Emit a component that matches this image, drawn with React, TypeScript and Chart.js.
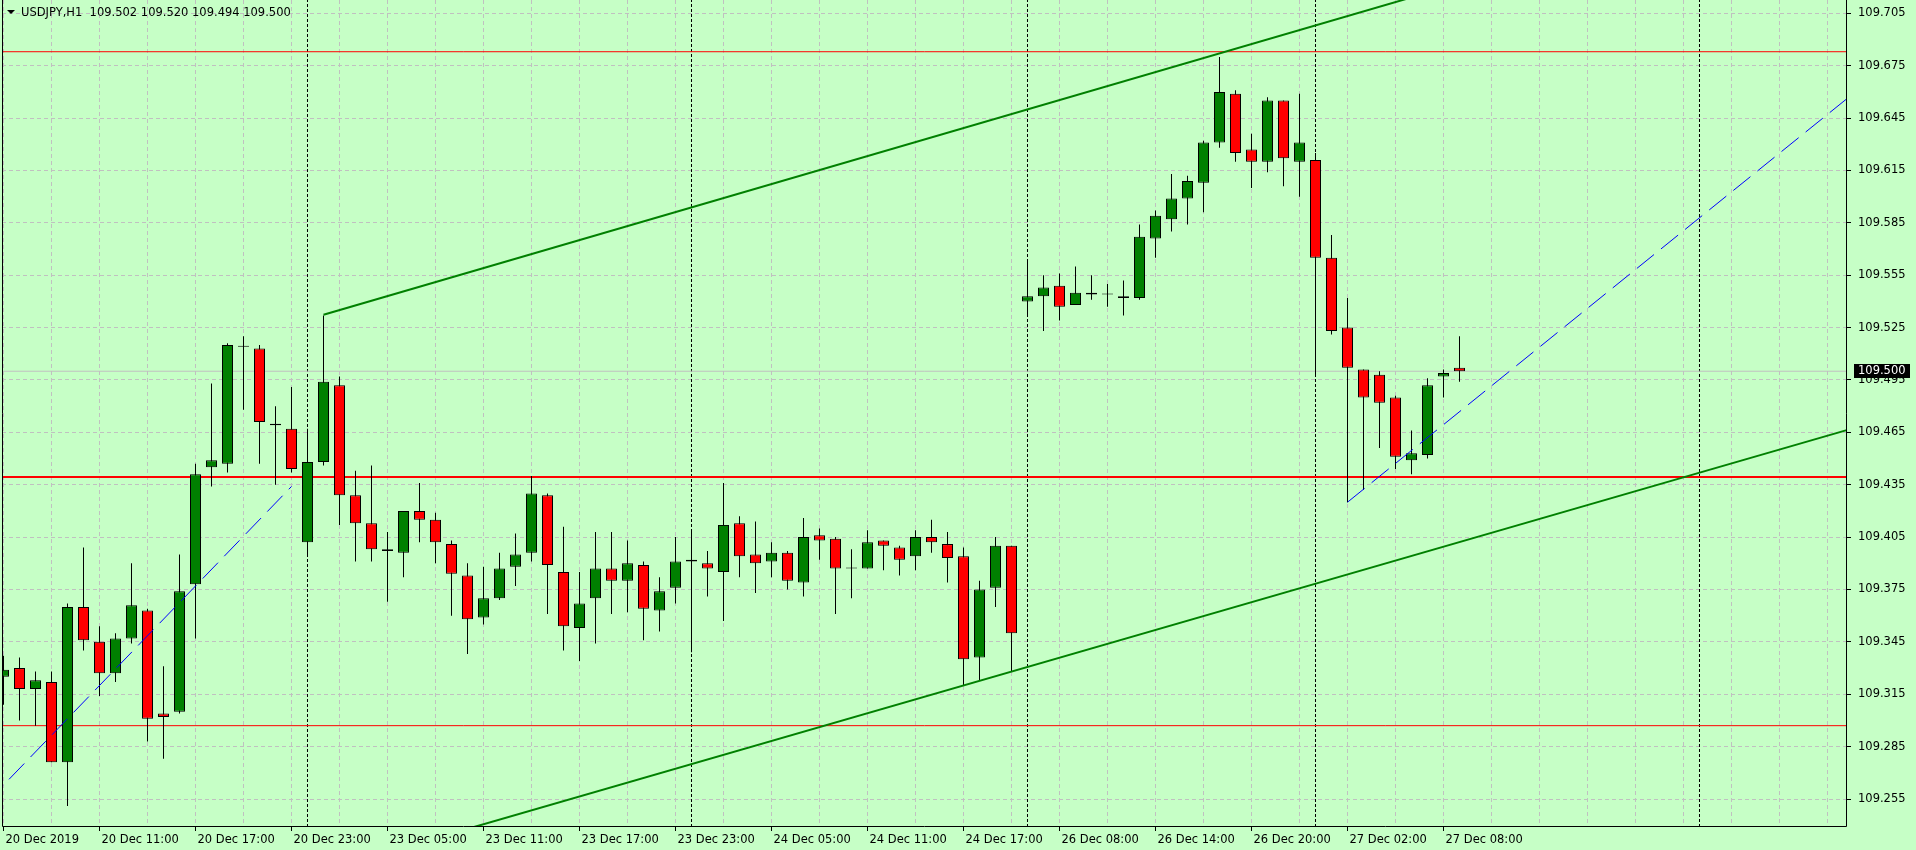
import React, { useEffect, useRef } from "react";
import { Chart, registerables } from "chart.js";

Chart.register(...registerables);

// ---------- data ----------
const SYMBOL = "USDJPY";
const PERIOD = "H1";

const opens = [
  109.325, 109.330, 109.318, 109.322, 109.276, 109.365, 109.345, 109.327, 109.347, 109.363,
  109.304, 109.305, 109.378, 109.445, 109.447, 109.514, 109.513, 109.470, 109.467, 109.402,
  109.448, 109.492, 109.429, 109.413, 109.398, 109.396, 109.420, 109.415, 109.401, 109.383,
  109.359, 109.370, 109.388, 109.396, 109.429, 109.385, 109.353, 109.370, 109.387, 109.380,
  109.389, 109.363, 109.376, 109.392, 109.390, 109.385, 109.413, 109.395, 109.391, 109.396,
  109.379, 109.406, 109.404, 109.387, 109.387, 109.403, 109.399, 109.394, 109.405, 109.401,
  109.394, 109.336, 109.376, 109.400, 109.540, 109.543, 109.549, 109.538, 109.545, 109.544,
  109.543, 109.542, 109.576, 109.587, 109.599, 109.608, 109.631, 109.659, 109.627, 109.620,
  109.655, 109.620, 109.621, 109.565, 109.525, 109.501, 109.498, 109.485, 109.449, 109.452,
  109.497, 109.502,
];
const highs = [
  109.337, 109.336, 109.328, 109.328, 109.367, 109.399, 109.354, 109.350, 109.390, 109.364,
  109.331, 109.395, 109.447, 109.493, 109.516, 109.520, 109.515, 109.480, 109.491, 109.467,
  109.532, 109.497, 109.443, 109.446, 109.408, 109.420, 109.436, 109.419, 109.403, 109.390,
  109.388, 109.396, 109.407, 109.440, 109.430, 109.411, 109.385, 109.408, 109.408, 109.403,
  109.391, 109.382, 109.405, 109.409, 109.397, 109.436, 109.417, 109.414, 109.402, 109.397,
  109.416, 109.410, 109.405, 109.398, 109.409, 109.403, 109.400, 109.409, 109.415, 109.408,
  109.399, 109.380, 109.405, 109.400, 109.564, 109.555, 109.556, 109.560, 109.555, 109.550,
  109.552, 109.584, 109.592, 109.613, 109.612, 109.632, 109.680, 109.661, 109.636, 109.657,
  109.655, 109.659, 109.625, 109.578, 109.542, 109.501, 109.500, 109.486, 109.466, 109.496,
  109.501, 109.520,
];
const lows = [
  109.309, 109.300, 109.297, 109.276, 109.251, 109.340, 109.314, 109.322, 109.344, 109.288,
  109.278, 109.304, 109.347, 109.434, 109.442, 109.478, 109.447, 109.435, 109.442, 109.394,
  109.446, 109.412, 109.391, 109.391, 109.368, 109.382, 109.402, 109.390, 109.360, 109.338,
  109.355, 109.369, 109.377, 109.391, 109.361, 109.340, 109.334, 109.344, 109.361, 109.362,
  109.346, 109.351, 109.367, 109.339, 109.371, 109.357, 109.382, 109.373, 109.382, 109.375,
  109.371, 109.392, 109.361, 109.370, 109.387, 109.386, 109.383, 109.386, 109.396, 109.379,
  109.320, 109.323, 109.365, 109.328, 109.531, 109.523, 109.529, 109.538, 109.541, 109.537,
  109.532, 109.541, 109.565, 109.580, 109.584, 109.591, 109.628, 109.620, 109.605, 109.614,
  109.606, 109.600, 109.497, 109.521, 109.425, 109.432, 109.456, 109.444, 109.441, 109.450,
  109.485, 109.494,
];
const closes = [
  109.329, 109.318, 109.323, 109.276, 109.365, 109.346, 109.327, 109.347, 109.366, 109.301,
  109.302, 109.374, 109.441, 109.449, 109.515, 109.514, 109.471, 109.469, 109.444, 109.448,
  109.494, 109.429, 109.413, 109.398, 109.397, 109.420, 109.415, 109.402, 109.384, 109.358,
  109.370, 109.387, 109.395, 109.430, 109.389, 109.354, 109.367, 109.387, 109.380, 109.390,
  109.364, 109.374, 109.391, 109.391, 109.387, 109.412, 109.394, 109.390, 109.396, 109.380,
  109.405, 109.403, 109.387, 109.387, 109.402, 109.400, 109.392, 109.405, 109.402, 109.393,
  109.335, 109.375, 109.400, 109.350, 109.543, 109.548, 109.537, 109.545, 109.544, 109.544,
  109.542, 109.577, 109.589, 109.599, 109.609, 109.631, 109.660, 109.625, 109.620, 109.655,
  109.622, 109.631, 109.565, 109.523, 109.502, 109.485, 109.482, 109.451, 109.453, 109.492,
  109.499, 109.500,
];

// x-axis labels (bar index -> text)
const xLabelBars = [0, 6, 12, 18, 24, 30, 36, 42, 48, 54, 60, 66, 72, 78, 84, 90];
const xLabels = [
  "20 Dec 2019", "20 Dec 11:00", "20 Dec 17:00", "20 Dec 23:00", "23 Dec 05:00", "23 Dec 11:00",
  "23 Dec 17:00", "23 Dec 23:00", "24 Dec 05:00", "24 Dec 11:00", "24 Dec 17:00", "26 Dec 08:00",
  "26 Dec 14:00", "26 Dec 20:00", "27 Dec 02:00", "27 Dec 08:00",
];
const X_GRID_STEP = 3;
const yTickValues = [
  109.255, 109.285, 109.315, 109.345, 109.375, 109.405, 109.435, 109.465,
  109.495, 109.525, 109.555, 109.585, 109.615, 109.645, 109.675, 109.705,
];

// day separators (bar index of first bar of a day)
const daySeparatorBars = [19, 43, 64, 82, 106];

// horizontal lines
const redLevels = [109.683, 109.4395, 109.297];
const redWidths = [1, 2, 1];

// trend lines (anchor points in bar index / price)
const channelUpper = [{ x: 20, y: 109.5324 }, { x: 115.2, y: 109.7868 }];
const channelLower = [{ x: 25, y: 109.2273 }, { x: 115.2, y: 109.4663 }];
const blueLine1 = [{ x: -1, y: 109.2535 }, { x: 18, y: 109.434 }];
const blueLine2 = [{ x: 84, y: 109.425 }, { x: 115.2, y: 109.656 }];

// axis ranges
const X_MIN = -0.09375;
const X_MAX = 115.21875;
const Y_MIN = 109.23897;
const Y_MAX = 109.71263;

// ---------- style ----------
const BG = "#c6ffc6";
const BULL = "#008000";
const BEAR = "#ff0000";
const GRID = "#c0c0c0";
const FONT = "DejaVu Sans";
const FONT_SIZE = 11.5;

export default function App() {
  const ref = useRef<HTMLCanvasElement>(null);

  useEffect(() => {
    document.body.style.margin = "0";
    const canvas = ref.current!;
    const n = opens.length;
    const idx = Array.from({ length: n }, (_, i) => i);
    const bodyColors = idx.map((i) => (closes[i] >= opens[i] ? BULL : BEAR));

    const gridBars: number[] = [];
    for (let v = 0; v <= X_MAX; v += X_GRID_STEP) gridBars.push(v);

    const lineDs = (data: any[], color: string, width: number, order: number, dash: number[] = []) => ({
      type: "line" as const,
      data,
      borderColor: color,
      borderWidth: width,
      borderDash: dash,
      pointRadius: 0,
      fill: false,
      tension: 0,
      order,
      clip: 0,
    });

    const datasets: any[] = [
      {
        type: "bar",
        label: "wicks",
        data: idx.map((i) => ({ x: i, y: [lows[i], highs[i]] })),
        backgroundColor: "#000",
        borderWidth: 0,
        barThickness: 1,
        grouped: false,
        inflateAmount: 0,
        order: 5,
        clip: 0,
      },
      {
        type: "bar",
        label: "bodies",
        data: idx.map((i) => ({ x: i, y: [opens[i], closes[i]] })),
        backgroundColor: bodyColors,
        borderColor: "#000",
        borderWidth: 1,
        borderSkipped: false,
        barThickness: 11,
        minBarLength: 1,
        grouped: false,
        inflateAmount: 0,
        order: 4,
        clip: 0,
      },
      ...daySeparatorBars.map((b) =>
        lineDs([{ x: b, y: Y_MIN }, { x: b, y: Y_MAX }], "#000", 1, 20, [3, 2])
      ),
      ...redLevels.map((p, k) =>
        lineDs([{ x: X_MIN, y: p }, { x: X_MAX, y: p }], BEAR, redWidths[k], 10)
      ),
      lineDs([{ x: X_MIN, y: closes[n - 1] }, { x: X_MAX, y: closes[n - 1] }], "#c0c0c0", 1, 11),
      lineDs(channelUpper, BULL, 2, 1),
      lineDs(channelLower, BULL, 2, 1),
      lineDs(blueLine1, "#0000ff", 1, 1, [22, 9]),
      lineDs(blueLine2, "#0000ff", 1, 1, [22, 9]),
    ];

    const decor = {
      id: "mt4decor",
      beforeDraw(chart: any) {
        const c = chart.ctx;
        c.save();
        c.fillStyle = BG;
        c.fillRect(0, 0, chart.width, chart.height);
        c.restore();
      },
      afterDatasetsDraw(chart: any) {
        const c = chart.ctx;
        const { left, right, top, bottom } = chart.chartArea;
        c.save();
        c.strokeStyle = "#000";
        c.lineWidth = 1;
        c.beginPath();
        c.moveTo(left + 0.5, top);
        c.lineTo(left + 0.5, bottom - 0.5);
        c.lineTo(right - 0.5, bottom - 0.5);
        c.lineTo(right - 0.5, top);
        c.stroke();
        c.restore();
      },
      afterDraw(chart: any) {
        const c = chart.ctx;
        const yScale = chart.scales.y;
        const last = n - 1;
        // bid price box
        const yb = Math.round(yScale.getPixelForValue(closes[last]));
        const xr = chart.chartArea.right;
        c.save();
        c.fillStyle = "#000";
        c.fillRect(xr + 7, yb - 7, 56, 14);
        c.fillStyle = "#fff";
        c.font = `${FONT_SIZE}px "${FONT}"`;
        c.textBaseline = "middle";
        c.textAlign = "left";
        c.fillText(closes[last].toFixed(3), xr + 11, yb + 0.5);
        // title
        c.fillStyle = "#000";
        c.beginPath();
        c.moveTo(7, 10);
        c.lineTo(15, 10);
        c.lineTo(11, 14);
        c.closePath();
        c.fill();
        const title = `${SYMBOL},${PERIOD}  ${opens[last].toFixed(3)} ${highs[last].toFixed(3)} ${lows[last].toFixed(3)} ${closes[last].toFixed(3)}`;
        c.fillText(title, 21, 13);
        c.restore();
      },
    };

    const chart = new Chart(canvas, {
      type: "bar",
      data: { datasets },
      options: {
        responsive: false,
        devicePixelRatio: 1,
        animation: false,
        events: [],
        layout: { padding: { left: 2, top: 0, right: 0, bottom: 0 } },
        plugins: { legend: { display: false }, tooltip: { enabled: false }, title: { display: false } },
        scales: {
          x: {
            type: "linear",
            position: "bottom",
            min: X_MIN,
            max: X_MAX,
            offset: false,
            bounds: "data",
            grid: {
              offset: false,
              color: GRID,
              lineWidth: 1,
              drawTicks: true,
              tickLength: 4,
              tickColor: (ctx: any) =>
                ctx.tick && xLabelBars.includes(ctx.tick.value) ? "#000" : "rgba(0,0,0,0)",
            },
            border: { display: false, dash: [4, 3] },
            ticks: {
              autoSkip: false,
              maxRotation: 0,
              minRotation: 0,
              align: "start",
              labelOffset: 2,
              padding: 2,
              color: "#000",
              font: { family: FONT, size: FONT_SIZE },
              callback: (v: any) => {
                const k = xLabelBars.indexOf(Number(v));
                return k >= 0 ? xLabels[k] : "";
              },
            },
            afterBuildTicks: (s: any) => {
              s.ticks = gridBars.map((v) => ({ value: v }));
            },
            afterFit: (s: any) => {
              s.height = 23;
              s.paddingLeft = 0;
              s.paddingRight = 0;
            },
          },
          y: {
            type: "linear",
            position: "right",
            min: Y_MIN,
            max: Y_MAX,
            beginAtZero: false,
            bounds: "data",
            grid: {
              color: GRID,
              lineWidth: 1,
              drawTicks: true,
              tickLength: 4,
              tickColor: "#000",
            },
            border: { display: false, dash: [4, 3] },
            ticks: {
              autoSkip: false,
              padding: 7,
              color: "#000",
              font: { family: FONT, size: FONT_SIZE },
              callback: (v: any) => Number(v).toFixed(3),
            },
            afterBuildTicks: (s: any) => {
              s.ticks = yTickValues.map((v) => ({ value: v }));
            },
            afterFit: (s: any) => {
              s.width = 69;
              s.paddingTop = 0;
              s.paddingBottom = 0;
            },
          },
        },
      } as any,
      plugins: [decor],
    });

    return () => chart.destroy();
  }, []);

  return (
    <div style={{ width: 1916, height: 850 }}>
      <canvas ref={ref} width={1916} height={850} style={{ display: "block" }} />
    </div>
  );
}
